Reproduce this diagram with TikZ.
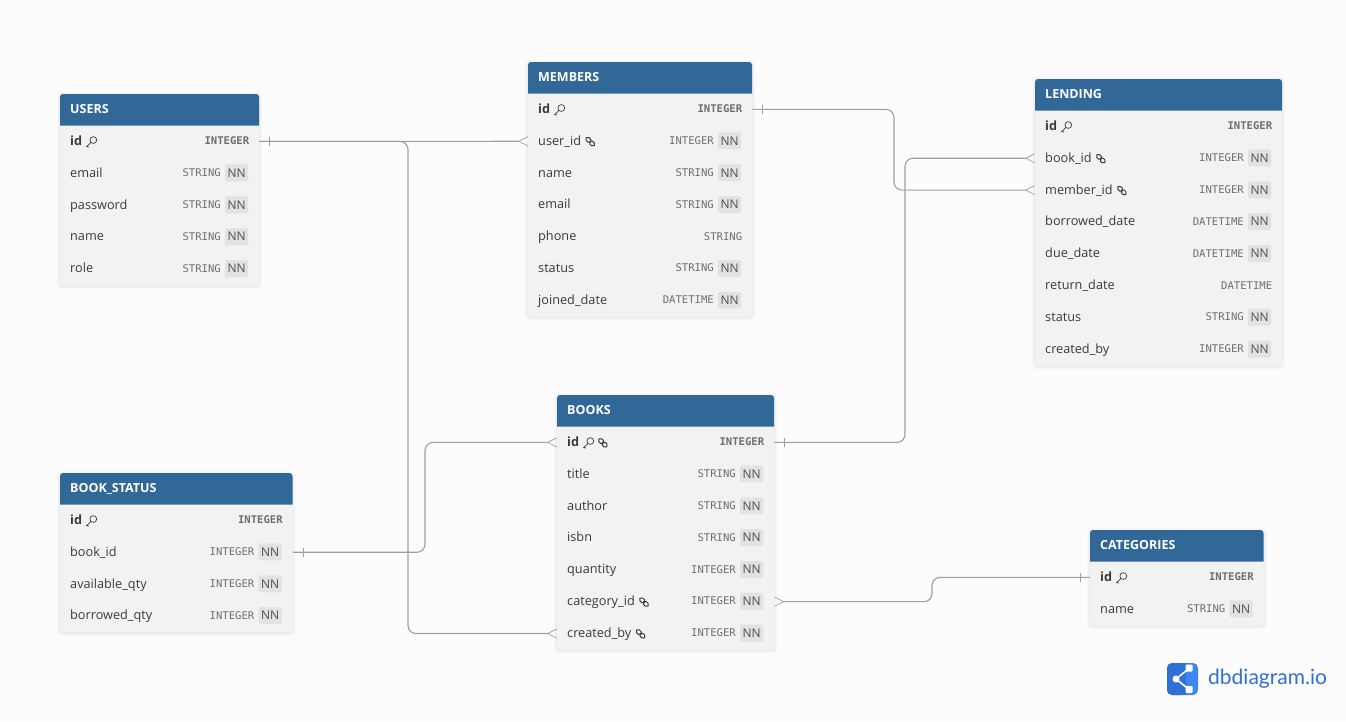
\documentclass[tikz,border=0pt]{standalone}
\usepackage{fontspec}
\setmainfont{Open Sans}
\setmonofont{DejaVu Sans Mono}
\newfontfamily\logofont{Lato}
\usetikzlibrary{calc,arrows.meta,positioning,decorations.markings}
\definecolor{pagebg}{HTML}{FCFCFD}
\definecolor{headblue}{HTML}{316897}
\definecolor{bodygray}{HTML}{F2F2F2}
\definecolor{nngray}{HTML}{E2E2E2}
\definecolor{linkgray}{HTML}{9D9EA5}
\definecolor{textdark}{HTML}{3A3A3A}
\definecolor{typegray}{HTML}{6E6E6E}
\definecolor{logoblue}{HTML}{2F6FD8}
\definecolor{logolight}{HTML}{3E86F5}
\tikzset{
	tablebody/.style={rectangle,fill=bodygray,rounded corners=3pt,inner sep=0pt,anchor=north west},
	tablehead/.style={fill=headblue},
	tabletitle/.style={anchor=west,inner sep=0pt,text=white,font=\fontsize{12.5}{14}\selectfont\bfseries},
	rowbox/.style={rectangle,inner sep=0pt,minimum height=31.85pt,anchor=west},
	fieldtext/.style={inner sep=0pt,text=textdark,text height=9.5pt,text depth=2.5pt,font=\fontsize{12.7}{14}\selectfont},
	typetext/.style={inner sep=0pt,text=typegray,text height=8pt,text depth=1pt,font=\fontsize{10.6}{12}\ttfamily},
	nnbadge/.style={fill=nngray,rounded corners=1.5pt,inner sep=0pt,minimum width=23pt,minimum height=17pt,text=textdark!90,font=\fontsize{12}{12}\selectfont},
	relline/.style={draw=linkgray,line width=1.1pt,rounded corners=8pt},
	onebar/.style={postaction={decorate},decoration={markings,mark=at position 10pt with {\draw[-,linkgray,line width=0.7pt] (0,-4.5pt) -- (0,4.5pt);}}},
	crowfoot/.style={-{Straight Barb[reversed,length=9pt,width=9pt,line width=0.7pt]}},
	pics/noicon/.style={code={}},
	pics/keyicon/.style={code={
		\draw[textdark,line width=0.7pt] (7.5,-1.8) circle (3.4);
		\draw[textdark,line width=0.7pt] (5.2,0.6) -- (0.8,4.8) -- (3,5.2);
	}},
	pics/linkicon/.style={code={
		\draw[textdark,line width=1pt,rotate around={-45:(5.5,0)},rounded corners=1.8pt] (0,-2) rectangle (6,2);
		\draw[textdark,line width=1pt,rotate around={-45:(5.5,0)},rounded corners=1.8pt] (5,-2) rectangle (11,2);
	}},
	pics/bothicon/.style={code={
		\pic at (0,0) {keyicon};
		\pic at (14.5,0) {linkicon};
	}},
}
\def\nntag{NN}
\def\idtag{id}
% table: name, x, y, width, number of rows, title, rows
\newcommand{\dbtable}[7]{
	\foreach \s in {1,2,3}
		\fill[black,opacity=0.02,rounded corners=4pt] ({#2-\s},{#3-\s+1}) rectangle ({#2+#4+\s},{#3+31.5+#5*31.85+\s+1});
	\node[tablebody,minimum width=#4pt,minimum height={31.5pt+#5*31.85pt}] (#1-body) at (#2,#3) {};
	\fill[tablehead,rounded corners=3pt] (#2,{#3+31.5}) [sharp corners] -- (#2,{#3+31.5}) [rounded corners=3pt] -- (#2,#3) -- ({#2+#4},#3) [sharp corners] -- ({#2+#4},{#3+31.5}) -- cycle;
	\node[tabletitle] (#1) at ({#2+10},{#3+15.5}) {#6};
	\foreach \fname/\ftype/\fnn/\ficon [count=\i] in {#7} {
		\node[rowbox,minimum width=#4pt] (#1-\fname) at ($(#1-body.north west)+(0,{31.5+(\i-0.5)*31.85})$) {};
		\ifx\fname\idtag\def\rowfont{\bfseries}\else\def\rowfont{}\fi
		\node[fieldtext,right=10pt of #1-\fname.west,yshift=-0.4pt] (#1-\fname-label) {\rowfont\detokenize\expandafter{\fname}};
		\pic at ($(#1-\fname-label.east)+(3.5,0)$) {\ficon};
		\ifx\fnn\nntag
			\node[nnbadge,left=11pt of #1-\fname.east,yshift=0.3pt] (#1-\fname-nn) {NN};
			\node[typetext,left=4pt of #1-\fname-nn] (#1-\fname-type) {\ftype};
		\else
			\node[typetext,left=10pt of #1-\fname.east] (#1-\fname-type) {\rowfont\ftype};
		\fi
	}
}
\begin{document}
\begin{tikzpicture}[x=1pt,y=-1pt]
	\useasboundingbox (0,0) rectangle (1346,721);
	\fill[pagebg] (0,0) rectangle (1346,721);
	%%tables
	\dbtable{users}{60}{94}{199}{5}{USERS}{id/INTEGER/no/keyicon,email/STRING/NN/noicon,password/STRING/NN/noicon,name/STRING/NN/noicon,role/STRING/NN/noicon}
	\dbtable{members}{528}{62}{224}{7}{MEMBERS}{id/INTEGER/no/keyicon,user_id/INTEGER/NN/linkicon,name/STRING/NN/noicon,email/STRING/NN/noicon,phone/STRING/no/noicon,status/STRING/NN/noicon,joined_date/DATETIME/NN/noicon}
	\dbtable{lending}{1035}{79}{247}{8}{LENDING}{id/INTEGER/no/keyicon,book_id/INTEGER/NN/linkicon,member_id/INTEGER/NN/linkicon,borrowed_date/DATETIME/NN/noicon,due_date/DATETIME/NN/noicon,return_date/DATETIME/no/noicon,status/STRING/NN/noicon,created_by/INTEGER/NN/noicon}
	\dbtable{books}{557}{395}{217}{7}{BOOKS}{id/INTEGER/no/bothicon,title/STRING/NN/noicon,author/STRING/NN/noicon,isbn/STRING/NN/noicon,quantity/INTEGER/NN/noicon,category_id/INTEGER/NN/linkicon,created_by/INTEGER/NN/linkicon}
	\dbtable{bookstatus}{60}{473}{232.5}{4}{BOOK\_STATUS}{id/INTEGER/no/keyicon,book_id/INTEGER/NN/noicon,available_qty/INTEGER/NN/noicon,borrowed_qty/INTEGER/NN/noicon}
	\dbtable{categories}{1090}{530}{173.5}{2}{CATEGORIES}{id/INTEGER/no/keyicon,name/STRING/NN/noicon}
	%%bend columns of the relations
	\coordinate (bendUsers) at (408,0);
	\coordinate (bendMembers) at (894,0);
	\coordinate (bendBooks) at (905,0);
	\coordinate (bendStatus) at (425,0);
	\coordinate (bendCategories) at (932,0);
	%%relations
	\draw[relline,onebar,crowfoot] (users-id.east) -- (members-user_id.west);
	\draw[relline,onebar,crowfoot] (users-id.east) -- (bendUsers |- users-id.east) -- (bendUsers |- books-created_by.west) -- (books-created_by.west);
	\draw[relline,onebar,crowfoot] (members-id.east) -- (bendMembers |- members-id.east) -- (bendMembers |- lending-member_id.west) -- (lending-member_id.west);
	\draw[relline,onebar,crowfoot] (books-id.east) -- (bendBooks |- books-id.east) -- (bendBooks |- lending-book_id.west) -- (lending-book_id.west);
	\draw[relline,onebar,crowfoot] (bookstatus-book_id.east) -- (bendStatus |- bookstatus-book_id.east) -- (bendStatus |- books-id.west) -- (books-id.west);
	\draw[relline,onebar,crowfoot] (categories-id.west) -- (bendCategories |- categories-id.west) -- (bendCategories |- books-category_id.east) -- (books-category_id.east);
	%%logo
	\fill[logolight,rounded corners=5pt] (1167,663) rectangle (1198,695);
	\fill[logoblue,rounded corners=5pt] (1167,663) rectangle (1186,695);
	\fill[logoblue] (1180,663) rectangle (1186,695);
	\draw[white,line width=1.6pt] (1189,668.5) -- (1176,679) -- (1189,689.5);
	\fill[white] (1176,679) circle (3.5);
	\fill[white,rounded corners=1pt] (1185.5,664.5) rectangle (1192.5,671.5);
	\fill[white,rounded corners=1pt] (1185.5,686) rectangle (1192.5,693);
	\node[anchor=west,inner sep=0pt,text=logoblue,font=\fontsize{21}{23}\logofont] (logotext) at (1208,679) {dbdiagram.io};
\end{tikzpicture}
\end{document}
